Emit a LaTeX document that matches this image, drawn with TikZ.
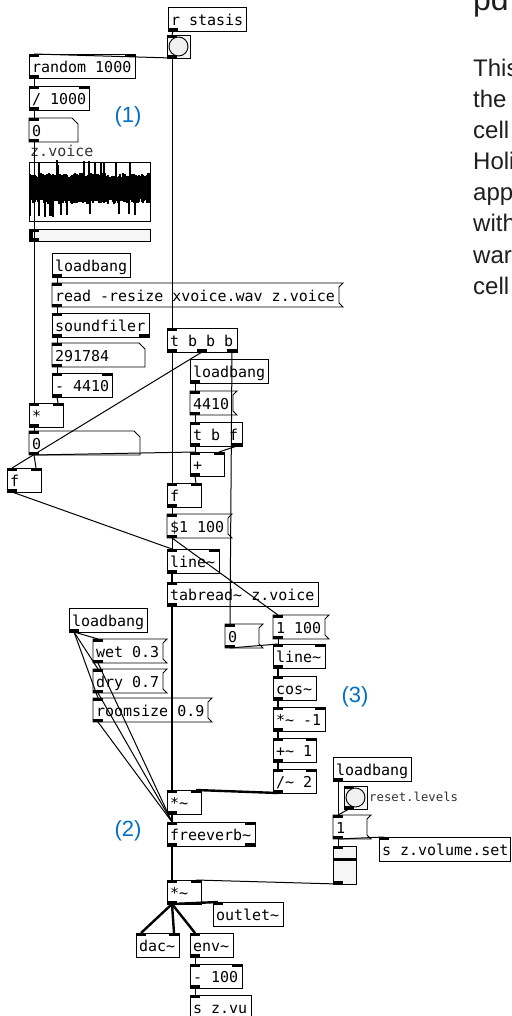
\documentclass[tikz,border=0pt]{standalone}
\usepackage{fontspec}
\setmainfont{Liberation Sans}
\newfontfamily\pdfont{DejaVu Sans Mono}
\definecolor{labelblue}{RGB}{0,112,196}
\definecolor{txtgray}{RGB}{30,30,30}
\definecolor{iemback}{RGB}{246,246,246}
\definecolor{bangdot}{RGB}{240,240,240}
\tikzset{
  box/.style={draw=black, line width=0.9pt},
  pdtxt/.style={anchor=north west, inner xsep=3pt, inner ysep=0pt, outer sep=0pt,
    text height=18.5pt, text depth=5.5pt, font=\pdfont\fontsize{15}{15}\selectfont},
  ctl/.style={line width=1pt},
  sig/.style={line width=2.4pt},
  numlbl/.style={text=labelblue, font=\fontsize{22}{22}\selectfont, inner sep=0pt},
  gui/.style={anchor=base west, inner sep=0pt, text=black!80, font=\pdfont\fontsize{#1}{#1}\selectfont}
}
\newcommand\pdports[7]{%
  \ifnum#5>0
    \foreach \k in {1,...,#5}{%
      \pgfmathsetmacro\px{#1+(#3-10)*(\k-1)/max(#5-1,1)}%
      \fill (\px,#2) rectangle +(10,3);
      \coordinate (#7-i\k) at (\px+5,#2);
    }%
  \fi
  \ifnum#6>0
    \foreach \k in {1,...,#6}{%
      \pgfmathsetmacro\px{#1+(#3-10)*(\k-1)/max(#6-1,1)}%
      \fill (\px,#2+#4) rectangle +(10,-3);
      \coordinate (#7-o\k) at (\px+5,#2+#4);
    }%
  \fi
}
\newcommand\pdobj[7]{%
  \node[pdtxt] (#1) at (#2,#3) {\makebox[\dimexpr#4pt-6pt\relax][l]{#5}};
  \draw[box] (#2,#3) rectangle +(#4,24);
  \pdports{#2}{#3}{#4}{24}{#6}{#7}{#1}
}
\newcommand\pdmsg[5]{%
  \node[pdtxt] (#1) at (#2,#3) {\makebox[\dimexpr#4pt-6pt\relax][l]{#5}};
  \draw[box] (#2,#3) -- ++(#4+4,0) -- ++(-4,4) -- ++(0,16) -- ++(4,4) -- ++(-#4-4,0) -- cycle;
  \pdports{#2}{#3}{#4}{24}{1}{1}{#1}
}
\newcommand\pdnum[5]{%
  \node[pdtxt] (#1) at (#2,#3) {\makebox[\dimexpr#4pt-6pt\relax][l]{#5}};
  \draw[box] (#2,#3) -- ++(#4-6,0) -- ++(6,6) -- ++(0,18) -- ++(-#4,0) -- cycle;
  \pdports{#2}{#3}{#4}{24}{1}{1}{#1}
}
\newcommand\pdbng[3]{%
  \draw[box, fill=iemback] (#2,#3) rectangle +(23,23);
  \draw[line width=0.9pt, fill=bangdot] (#2+11.5,#3+11.5) circle (9.5pt);
  \pdports{#2}{#3}{23}{23}{1}{1}{#1}
}
\begin{document}
\begin{tikzpicture}[x=1pt,y=-1pt]
\useasboundingbox (0,0) rectangle (511,1016);

% left column
\pdobj{rstasis}{168}{7}{78}{r stasis}{0}{1}
\pdbng{bng}{167}{35}
\pdobj{rnd}{29}{54}{106}{random 1000}{2}{1}
\pdobj{dv}{29}{86}{60}{/ 1000}{2}{1}
\pdnum{nA}{29}{118}{49}{0}
\node[gui=15] (arrlbl) at (30,157) {z.voice};
\draw[box] (29,162) rectangle (150,221);
\pgfmathsetseed{17}
\foreach \x in {30,...,149}{
  \pgfmathsetmacro\up{11+5*rnd+13*(rnd>0.93)}
  \pgfmathsetmacro\dn{10+5*rnd+14*(rnd>0.91)}
  \draw[line width=1.1pt] (\x,189-\up) -- (\x,189+\dn);
}
\draw[box, fill=iemback] (29,229) rectangle (150,241);
\draw[line width=3pt] (31,229) -- (31,241);
\pdports{29}{229}{121}{12}{1}{1}{hsl}
\pdobj{lbA}{52}{253}{78}{loadbang}{0}{1}
\pdmsg{rd}{52}{283}{287}{read -resize xvoice.wav z.voice}
\pdobj{sf}{52}{313}{97}{soundfiler}{1}{2}
\pdnum{nB}{52}{343}{93}{291784}
\pdobj{sbA}{52}{373}{60}{- 4410}{2}{1}
\pdobj{mlA}{29}{403}{34}{*}{2}{1}
\pdnum{nC}{29}{431}{111}{0}
\pdobj{fL}{7}{468}{34}{f}{2}{1}

% middle column
\pdobj{tbbb}{167}{328}{70}{t b b b}{1}{3}
\pdobj{lbB}{190}{359}{78}{loadbang}{0}{1}
\pdmsg{mD}{190}{391}{43}{4410}
\pdobj{tbf}{190}{422}{52}{t b f}{1}{2}
\pdobj{pl}{190}{452}{34}{+}{2}{1}
\pdobj{fC}{167}{483}{34}{f}{2}{1}
\pdmsg{mRamp}{167}{514}{61}{\$1 100}
\pdobj{lnA}{167}{549}{52}{line\textasciitilde}{2}{1}
\pdobj{tr}{167}{582}{151}{tabread\textasciitilde{} z.voice}{1}{1}
\pdmsg{mZero}{225}{624}{34}{0}
\pdmsg{mFade}{273}{615}{52}{1 100}
\pdobj{lnB}{273}{644}{52}{line\textasciitilde}{2}{1}
\pdobj{cs}{273}{676}{43}{cos\textasciitilde}{1}{1}
\pdobj{mlB}{273}{707}{52}{*\textasciitilde{} -1}{2}{1}
\pdobj{adB}{273}{738}{43}{+\textasciitilde{} 1}{2}{1}
\pdobj{dvB}{273}{769}{43}{/\textasciitilde{} 2}{2}{1}
\pdobj{lbC}{69}{608}{78}{loadbang}{0}{1}
\pdmsg{mWet}{93}{639}{70}{wet 0.3}
\pdmsg{mDry}{93}{669}{70}{dry 0.7}
\pdmsg{mRoom}{93}{698}{115}{roomsize 0.9}
\pdobj{mlC}{167}{790}{34}{*\textasciitilde}{2}{1}
\pdobj{fv}{167}{822}{88}{freeverb\textasciitilde}{2}{2}

% volume
\pdobj{lbD}{333}{757}{78}{loadbang}{0}{1}
\pdbng{bngB}{344}{786}
\node[gui=12.3] (rstlbl) at (369,801) {reset.levels};
\pdmsg{mOne}{333}{815}{34}{1}
\draw[box, fill=iemback] (333,846) rectangle (356,884);
\draw[line width=3pt] (333,859) -- (356,859);
\pdports{333}{846}{23}{38}{1}{1}{vsl}
\pdobj{sv}{379}{837}{131}{s z.volume.set}{1}{0}

% output
\pdobj{mlD}{167}{880}{34}{*\textasciitilde}{2}{1}
\pdobj{ot}{213}{902}{70}{outlet\textasciitilde}{1}{0}
\pdobj{dac}{136}{933}{43}{dac\textasciitilde}{2}{0}
\pdobj{env}{190}{933}{43}{env\textasciitilde}{1}{1}
\pdobj{sbB}{190}{964}{52}{- 100}{2}{1}
\pdobj{svu}{190}{995}{61}{s z.vu}{1}{0}

% cords
\draw[ctl] (rstasis-o1) -- (bng-i1);
\draw[ctl] (bng-o1) -- (rnd-i1);
\draw[ctl] (bng-o1) -- (tbbb-i1);
\draw[ctl] (rnd-o1) -- (dv-i1);
\draw[ctl] (dv-o1) -- (nA-i1);
\draw[ctl] (nA-o1) -- (mlA-i1);
\draw[ctl] (lbA-o1) -- (rd-i1);
\draw[ctl] (rd-o1) -- (sf-i1);
\draw[ctl] (sf-o1) -- (nB-i1);
\draw[ctl] (nB-o1) -- (sbA-i1);
\draw[ctl] (sbA-o1) -- (mlA-i2);
\draw[ctl] (mlA-o1) -- (nC-i1);
\draw[ctl] (nC-o1) -- (fL-i2);
\draw[ctl] (nC-o1) -- (pl-i1);
\draw[ctl] (tbbb-o1) -- (fC-i1);
\draw[ctl] (tbbb-o2) -- (fL-i1);
\draw[ctl] (tbbb-o3) -- (mZero-i1);
\draw[ctl] (lbB-o1) -- (mD-i1);
\draw[ctl] (mD-o1) -- (tbf-i1);
\draw[ctl] (tbf-o1) -- (pl-i1);
\draw[ctl] (tbf-o2) -- (pl-i2);
\draw[ctl] (pl-o1) -- (fC-i2);
\draw[ctl] (fC-o1) -- (mRamp-i1);
\draw[ctl] (mRamp-o1) -- (lnA-i1);
\draw[ctl] (mRamp-o1) -- (mFade-i1);
\draw[ctl] (fL-o1) -- (lnA-i1);
\draw[sig] (lnA-o1) -- (tr-i1);
\draw[sig] (tr-o1) -- (mlC-i1);
\draw[ctl] (mZero-o1) -- (lnB-i1);
\draw[ctl] (mFade-o1) -- (lnB-i1);
\draw[sig] (lnB-o1) -- (cs-i1);
\draw[sig] (cs-o1) -- (mlB-i1);
\draw[sig] (mlB-o1) -- (adB-i1);
\draw[sig] (adB-o1) -- (dvB-i1);
\draw[sig] (dvB-o1) -- (mlC-i2);
\draw[ctl] (lbC-o1) -- (mWet-i1);
\draw[ctl] (lbC-o1) -- (mDry-i1);
\draw[ctl] (lbC-o1) -- (mRoom-i1);
\draw[ctl] (mWet-o1) -- (fv-i1);
\draw[ctl] (mDry-o1) -- (fv-i1);
\draw[ctl] (mRoom-o1) -- (fv-i1);
\draw[sig] (mlC-o1) -- (fv-i1);
\draw[sig] (fv-o1) -- (mlD-i1);
\draw[ctl] (vsl-o1) -- (mlD-i2);
\draw[ctl] (lbD-o1) -- (mOne-i1);
\draw[ctl] (bngB-o1) -- (mOne-i1);
\draw[ctl] (mOne-o1) -- (vsl-i1);
\draw[ctl] (mOne-o1) -- (sv-i1);
\draw[sig] (mlD-o1) -- (ot-i1);
\draw[sig] (mlD-o1) -- (dac-i1);
\draw[sig] (mlD-o1) -- (dac-i2);
\draw[sig] (mlD-o1) -- (env-i1);
\draw[ctl] (env-o1) -- (sbB-i1);
\draw[ctl] (sbB-o1) -- (svu-i1);

\node[numlbl] (cA) at (128,117) {(1)};
\node[numlbl] (cB) at (128,831) {(2)};
\node[numlbl] (cC) at (355,697) {(3)};

% page text on the right
\begin{scope}
\clip (0,0) rectangle (511,1016);
\node[anchor=base west, inner sep=0pt, text=txtgray, font=\fontsize{32}{32}\selectfont] (ttl) at (473,11) {pd};
\foreach \w [count=\n from 0] in {This,the,cell,Holi,app,with,war,cell}
  \node[anchor=base west, inner sep=0pt, text=txtgray, font=\fontsize{24}{24}\selectfont] (ln\n) at (473,77+31*\n) {\w};
\end{scope}
\end{tikzpicture}
\end{document}
